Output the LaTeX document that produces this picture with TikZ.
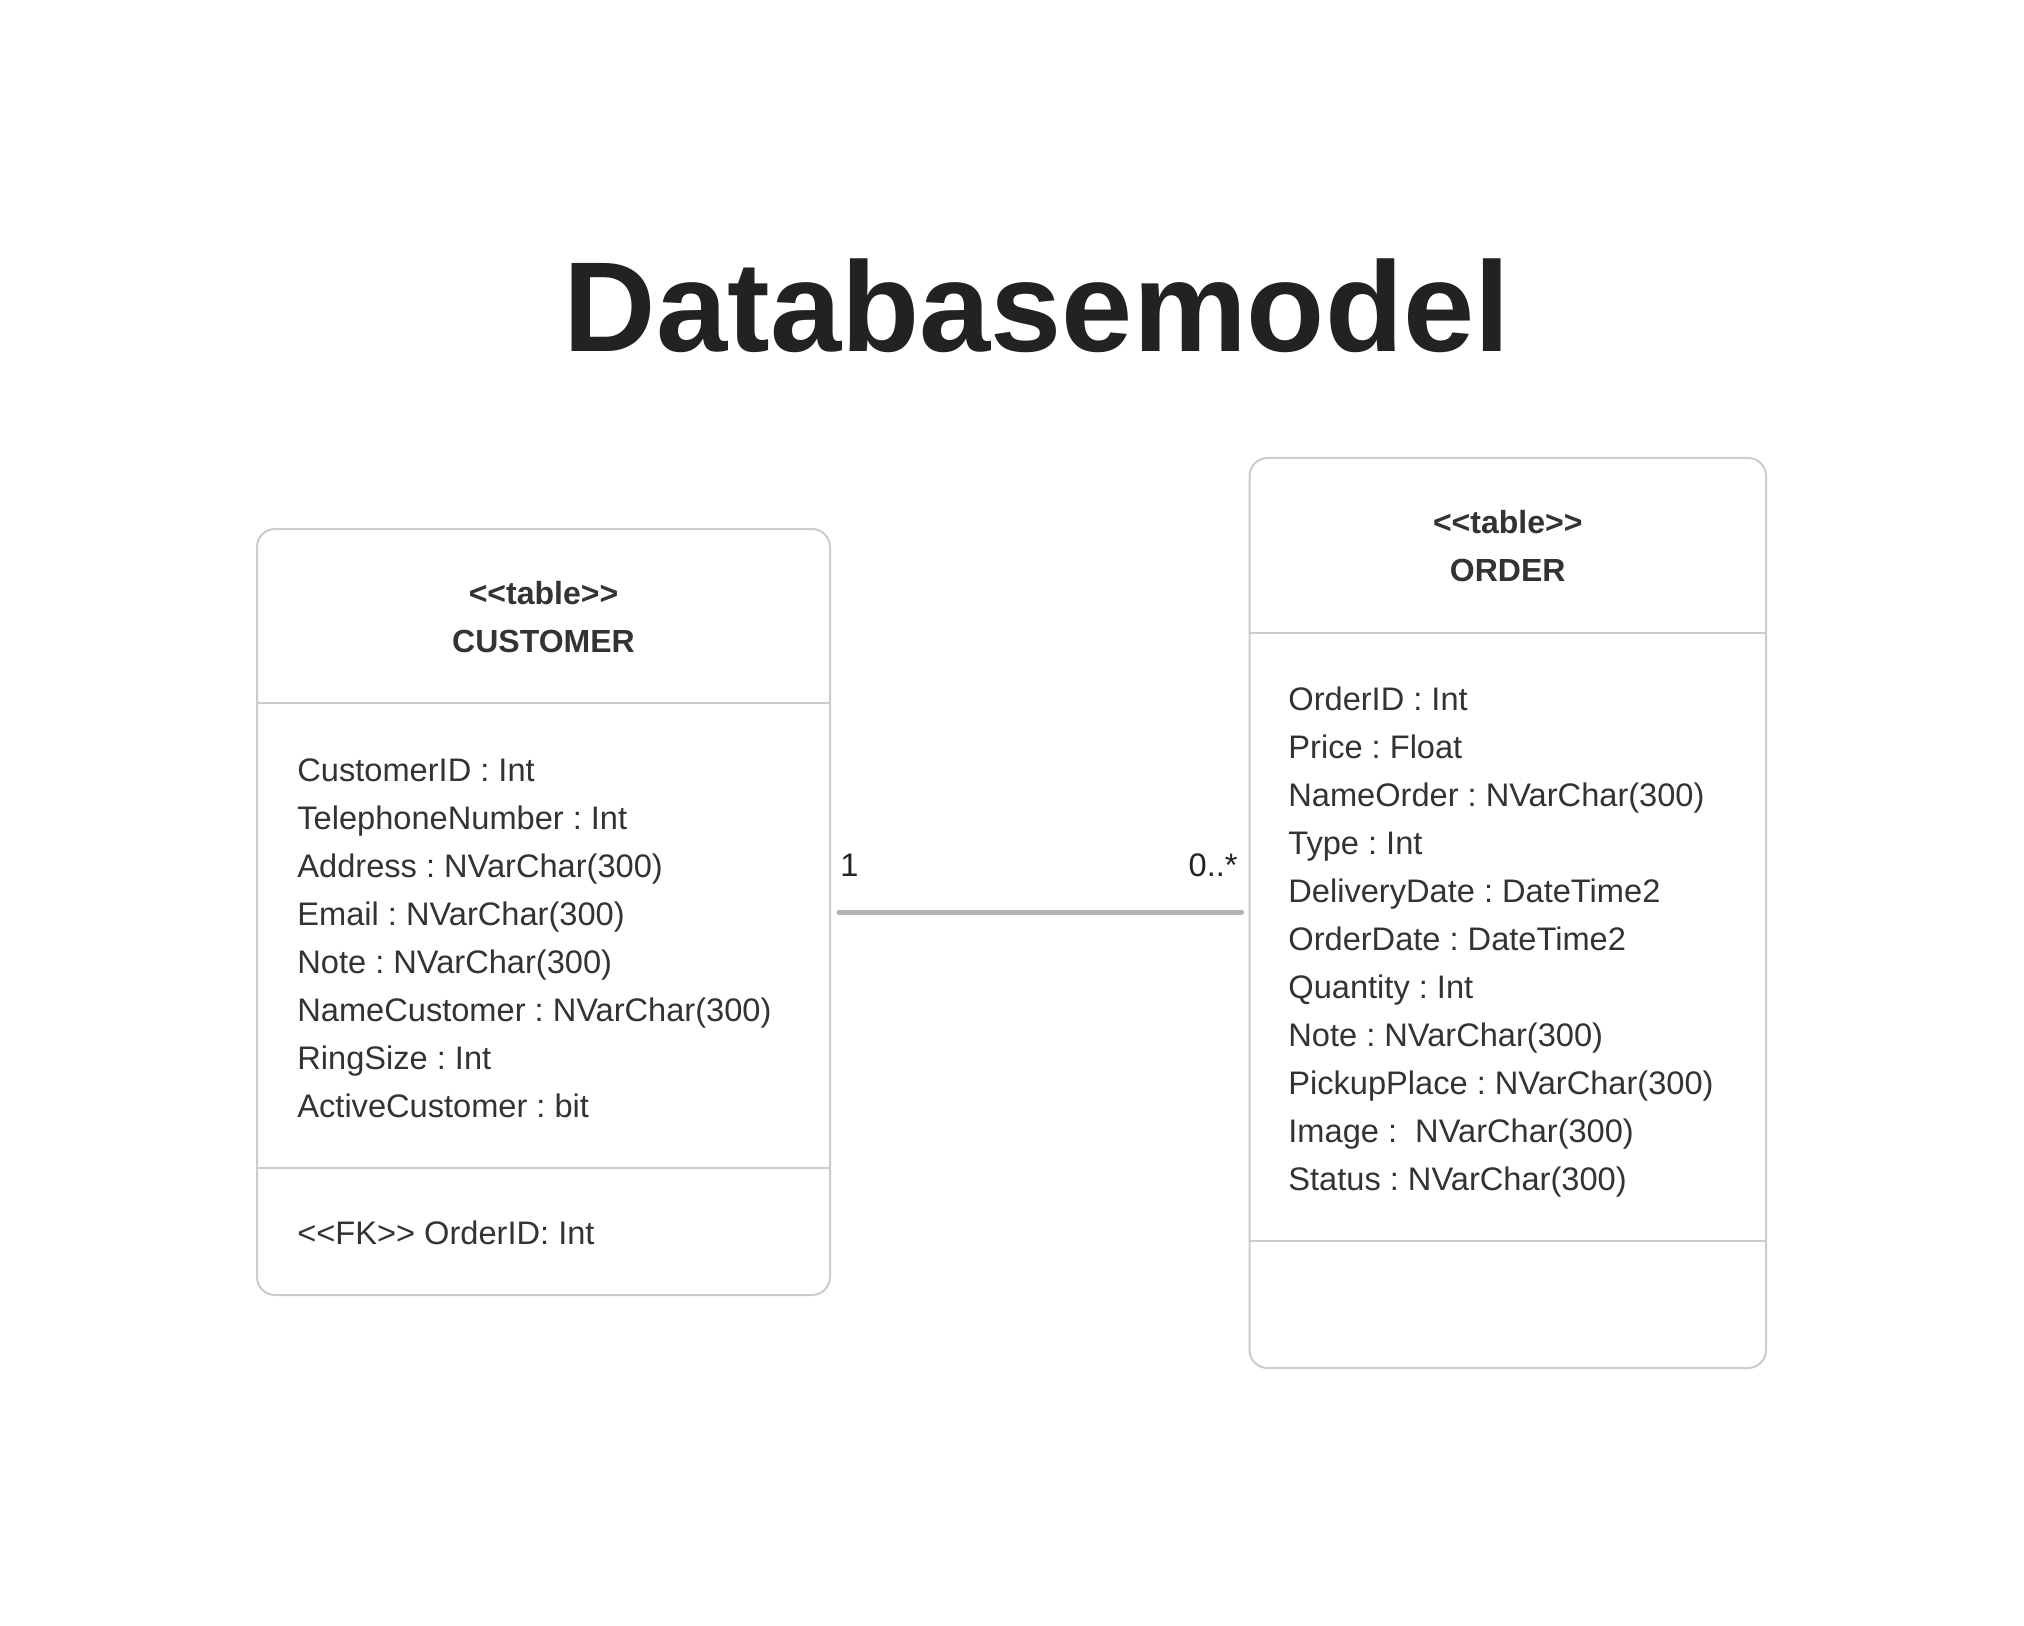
\documentclass[tikz,border=0pt]{standalone}
\usepackage{fontspec}
\setmainfont{Liberation Sans}
\frenchspacing
\usetikzlibrary{calc}
\definecolor{bordergray}{HTML}{CCCCCC}
\definecolor{linegray}{HTML}{B3B3B3}
\definecolor{titleink}{HTML}{222222}
\definecolor{textink}{HTML}{333333}
\tikzset{
  tbox/.style={draw=bordergray, line width=1pt, rounded corners=9pt, inner sep=0pt, fill=white},
  divider/.style={draw=bordergray, line width=1pt},
  attr/.style={anchor=base west, inner sep=0pt, text=textink, font=\fontsize{16.3pt}{20pt}\selectfont},
  hdr/.style={anchor=base, inner sep=0pt, text=textink, font=\bfseries\fontsize{16pt}{20pt}\selectfont},
  mult/.style={inner sep=0pt, text=titleink, font=\fontsize{16.3pt}{20pt}\selectfont},
  assoc/.style={draw=linegray, line width=2.5pt, line cap=round}
}
\begin{document}
\begin{tikzpicture}[x=0.5pt,y=-0.5pt]
\useasboundingbox[fill=white] (0,0) rectangle (2024,1626);
% title
\node[anchor=base, inner sep=0pt, text=titleink, font=\bfseries\fontsize{64pt}{70pt}\selectfont] (title) at (1037,352) {Databasemodel};
% boxes
\node[tbox, minimum width=286.5pt, minimum height=383pt] (cust) at (543.5,912) {};
\node[tbox, minimum width=258.25pt, minimum height=455pt] (ord) at (1507.75,913) {};
% dividers
\draw[divider] (cust.west |- 0,703) -- (cust.east |- 0,703);
\draw[divider] (cust.west |- 0,1168) -- (cust.east |- 0,1168);
\draw[divider] (ord.west |- 0,632.5) -- (ord.east |- 0,632.5);
\draw[divider] (ord.west |- 0,1240.5) -- (ord.east |- 0,1240.5);
% customer header
\node[hdr] (ch1) at (543.5,604) {<{}<table>{}>};
\node[hdr] (ch2) at (543.5,652) {CUSTOMER};
% customer attributes
\node[attr] (ca1) at (297,781) {CustomerID : Int};
\node[attr] (ca2) at (297,829) {TelephoneNumber : Int};
\node[attr] (ca3) at (297,877) {Address : NVarChar(300)};
\node[attr] (ca4) at (297,925) {Email : NVarChar(300)};
\node[attr] (ca5) at (297,973) {Note : NVarChar(300)};
\node[attr] (ca6) at (297,1021) {NameCustomer : NVarChar(300)};
\node[attr] (ca7) at (297,1069) {RingSize : Int};
\node[attr] (ca8) at (297,1117) {ActiveCustomer : bit};
\node[attr] (cfk) at (297,1244) {<{}<FK>{}> OrderID: Int};
% order header
\node[hdr] (oh1) at (1507.75,533) {<{}<table>{}>};
\node[hdr] (oh2) at (1507.75,581) {ORDER};
% order attributes
\node[attr] (oa1) at (1288,710) {OrderID : Int};
\node[attr] (oa2) at (1288,758) {Price : Float};
\node[attr] (oa3) at (1288,806) {NameOrder : NVarChar(300)};
\node[attr] (oa4) at (1288,854) {Type : Int};
\node[attr] (oa5) at (1288,902) {DeliveryDate : DateTime2};
\node[attr] (oa6) at (1288,950) {OrderDate : DateTime2};
\node[attr] (oa7) at (1288,998) {Quantity : Int};
\node[attr] (oa8) at (1288,1046) {Note : NVarChar(300)};
\node[attr] (oa9) at (1288,1094) {PickupPlace : NVarChar(300)};
\node[attr] (oa10) at (1288,1142) {Image : \ NVarChar(300)};
\node[attr] (oa11) at (1288,1190) {Status : NVarChar(300)};
% association
\draw[assoc] ([xshift=4pt]cust.east) -- ([xshift=-3.5pt]ord.west |- cust.east);
\node[mult, anchor=base west] (m1) at (840,876) {1};
\node[mult, anchor=base east] (m2) at (1238,876) {0..*};
\end{tikzpicture}
\end{document}
